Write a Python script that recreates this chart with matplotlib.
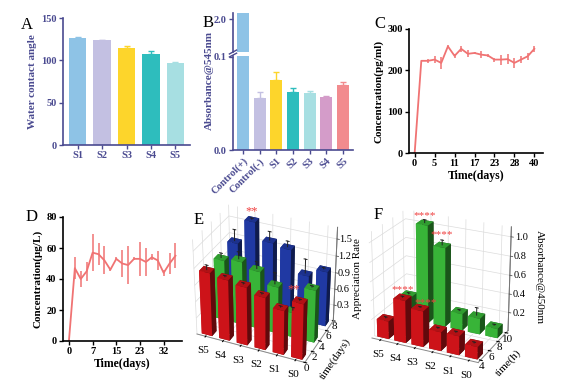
import matplotlib
matplotlib.use('Agg')
import matplotlib.pyplot as plt
import numpy as np
from mpl_toolkits.mplot3d import proj3d

plt.rcParams['font.family'] = ['Liberation Serif', 'DejaVu Serif']

# ---- data ----
a_labels = ['S1', 'S2', 'S3', 'S4', 'S5']
a_vals = [126, 123.5, 115, 108, 97]
a_err = [1, 0.5, 2.5, 2.5, 1.2]
a_cols = ['#8ec3e6', '#c3c0e2', '#fdd52b', '#2ebdbd', '#a7dfe2']

b_labels = ['Control(+)', 'Control(-)', 'S1', 'S2', 'S3', 'S4', 'S5']
b_vals = [2.2, 0.056, 0.075, 0.062, 0.061, 0.057, 0.0695]
b_err = [0, 0.006, 0.009, 0.005, 0.002, 0.0008, 0.004]
b_cols = ['#8ec3e6', '#c3c0e2', '#fdd52b', '#2ebdbd', '#a7dfe2', '#d49cc9', '#f28b8e']

c_vals = [0, 223, 223, 226, 218, 258, 235, 252, 240, 242, 238, 236, 226, 226, 227, 218, 226, 234, 252]
c_err = [0, 0, 5, 8, 14, 4, 5, 8, 8, 3, 8, 3, 5, 12, 12, 12, 8, 8, 8]
c_tickpos = [0, 3, 6, 9, 12, 15, 18]
c_ticklabels = ['0', '5', '11', '17', '23', '28', '40']

d_vals = [0, 47, 40, 45, 57, 56, 52, 46, 53, 50, 49, 53, 53, 51, 54, 52, 44, 50, 55]
d_err = [0, 7, 5, 6, 12, 7, 9, 1, 1, 9, 12, 1, 11, 9, 2, 6, 2, 7, 8]
d_tickpos = [0, 4, 8, 12, 16]
d_ticklabels = ['0', '7', '15', '23', '32']

e_labels = ['S5', 'S4', 'S3', 'S2', 'S1', 'S0']
e_red = [1.15, 1.1, 1.05, 0.95, 0.8, 1.0]
e_green = [1.1, 1.15, 1.05, 0.85, 0.45, 0.95]
e_blue = [1.15, 1.6, 1.3, 1.25, 0.85, 1.0]
e_red_err = [0.08, 0.02, 0.02, 0.02, 0.02, 0.02]
e_green_err = [0.08, 0.12, 0.12, 0.2, 0.05, 0.02]
e_blue_err = [0.2, 0.02, 0.15, 0.1, 0.25, 0.02]
e_rows = [0.8, 4.0, 7.2]

f_labels = ['S5', 'S4', 'S3', 'S2', 'S1', 'S0']
f_red = [0.19, 0.45, 0.38, 0.2, 0.2, 0.13]
f_green = [0.25, 1.05, 0.85, 0.18, 0.17, 0.1]
f_red_err = [0.01, 0.01, 0.01, 0.01, 0.01, 0.01]
f_green_err = [0.01, 0.03, 0.05, 0.01, 0.08, 0.01]
f_rows = [4.6, 9.2]

slate = '#4a4a90'
W, H = 576, 382
fig = plt.figure(figsize=(5.76, 3.82), dpi=100)


def rect(l, t, r, b):
    return [l / W, 1 - b / H, (r - l) / W, (b - t) / H]


def style2d(ax, color='black'):
    for s in ['top', 'right']:
        ax.spines[s].set_visible(False)
    for s in ['left', 'bottom']:
        ax.spines[s].set_color(color)
        ax.spines[s].set_linewidth(1.2)
    ax.tick_params(direction='out', length=3, width=1, colors=color, labelsize=7.5, pad=1.5)
    for t in ax.get_xticklabels() + ax.get_yticklabels():
        t.set_fontweight('bold')


def err_bars(ax, xs, vals, errs, cols):
    for x, v, e, c in zip(xs, vals, errs, cols):
        if e > 0:
            ax.errorbar([x], [v], yerr=[[0], [e]], fmt='none', ecolor=c, capsize=2.5, elinewidth=1, capthick=1)


# ---- A ----
axA = fig.add_axes(rect(63, 18, 190, 145))
xa = np.arange(len(a_vals))
axA.bar(xa, a_vals, width=0.72, color=a_cols)
err_bars(axA, xa, a_vals, a_err, a_cols)
axA.set_ylim(0, 150)
axA.set_yticks([0, 50, 100, 150])
axA.set_xlim(-0.6, 4.6)
axA.set_xticks(xa)
axA.set_xticklabels(a_labels)
style2d(axA, slate)
axA.set_ylabel('Water contact angle', fontsize=8, fontweight='bold', color=slate, labelpad=3)

# ---- B (broken axis) ----
xb = np.arange(len(b_vals))
axB = fig.add_axes(rect(233, 56, 353, 150))
axB.bar(xb, b_vals, width=0.72, color=b_cols)
err_bars(axB, xb, b_vals, b_err, b_cols)
axB.set_ylim(0, 0.101)
axB.set_yticks([0.0, 0.1])
axB.set_yticklabels(['0.0', '0.1'])
axB.set_xlim(-0.6, 6.6)
axB.set_xticks(xb)
axB.set_xticklabels(b_labels, rotation=45, ha='right', rotation_mode='anchor')
style2d(axB, slate)
axB.set_ylabel('Absorbance@545nm', fontsize=8, fontweight='bold', color=slate, labelpad=3)
axB.yaxis.set_label_coords(-0.16, 0.74)

axB2 = fig.add_axes(rect(233, 13, 353, 52))
axB2.bar(xb, b_vals, width=0.72, color=b_cols)
axB2.set_ylim(1.75, 2.05)
axB2.set_yticks([2.0])
axB2.set_yticklabels(['2.0'])
axB2.set_xlim(-0.6, 6.6)
axB2.set_xticks([])
style2d(axB2, slate)
axB2.spines['bottom'].set_visible(False)
axB.plot([-0.03, 0.03], [0.99, 1.03], transform=axB.transAxes, color=slate, lw=1, clip_on=False)
axB2.plot([-0.03, 0.03], [-0.05, 0.05], transform=axB2.transAxes, color=slate, lw=1, clip_on=False)

# ---- C ----
axC = fig.add_axes(rect(409, 29, 543, 153))
xc = np.arange(len(c_vals))
axC.errorbar(xc, c_vals, yerr=c_err, color='#f07373', lw=1.3, elinewidth=1.1, capsize=0)
axC.set_ylim(0, 300)
axC.set_yticks([0, 100, 200, 300])
axC.set_xlim(-0.85, 19.3)
axC.set_xticks(c_tickpos)
axC.set_xticklabels(c_ticklabels)
style2d(axC)
axC.set_ylabel('Concentration(pg/ml)', fontsize=8, fontweight='bold', labelpad=3)
axC.set_xlabel('Time(days)', fontsize=8.5, fontweight='bold', labelpad=1)

# ---- D ----
axD = fig.add_axes(rect(63, 217, 182, 341))
xd = np.arange(len(d_vals))
axD.errorbar(xd, d_vals, yerr=d_err, color='#f07373', lw=1.3, elinewidth=1.1, capsize=0)
axD.set_ylim(0, 80)
axD.set_yticks([0, 20, 40, 60, 80])
axD.set_xlim(-1.0, 19.1)
axD.set_xticks(d_tickpos)
axD.set_xticklabels(d_ticklabels)
style2d(axD)
axD.set_ylabel('Concentration(μg/L)', fontsize=8, fontweight='bold', labelpad=3)
axD.set_xlabel('Time(days)', fontsize=8.5, fontweight='bold', labelpad=1)


# ---- 3D helpers ----
def style3d(ax):
    ax.patch.set_alpha(0)
    for axis in (ax.xaxis, ax.yaxis, ax.zaxis):
        axis.set_pane_color((1, 1, 1, 0))
        axis.pane.set_edgecolor('#aaaaaa')
        axis._axinfo['grid']['color'] = '#dcdcdc'
        axis._axinfo['grid']['linewidth'] = 0.5
        axis.line.set_color('#888888')
        axis.line.set_linewidth(0.7)
    ax.zaxis._axinfo['tick']['inward_factor'] = 0
    ax.zaxis._axinfo['tick']['outward_factor'] = 0
    ax.set_zticklabels([])
    ax.tick_params(axis='x', labelsize=8, pad=-3)
    ax.tick_params(axis='y', labelsize=8, pad=-7)


def bars3d(ax, rows, series, errs, colors, width=0.5, depth=0.9):
    xs, ys, hs, cs = [], [], [], []
    for y0, vals, col in zip(rows, series, colors):
        for i, v in enumerate(vals):
            xs.append(i - width / 2)
            ys.append(y0 - depth / 2)
            hs.append(v)
            cs.append(col)
    ax.bar3d(xs, ys, np.zeros(len(xs)), width, depth, hs, color=cs, shade=True, zorder=1)
    for y0, vals, er in zip(rows, series, errs):
        for i, (v, e) in enumerate(zip(vals, er)):
            ax.plot([i, i], [y0, y0], [v, v + e], color='#222222', lw=0.7, zorder=5)
            ax.plot([i - 0.08, i + 0.08], [y0, y0], [v + e, v + e], color='#222222', lw=0.7, zorder=5)


def right_zaxis(ax, xr, yr, zticks, ztop, fmt, off=0.2):
    ax.plot([xr, xr], [yr, yr], [0, ztop], color='#777777', lw=0.7, zorder=6)
    for v in zticks:
        ax.plot([xr, xr + 0.12], [yr, yr], [v, v], color='#555555', lw=0.6, zorder=6)
        ax.text(xr + off, yr, v, fmt.format(v), fontsize=7.5, ha='left', va='center', zorder=7)


def fit3d(ax, p1, p2, t1, t2):
    # move/scale the 3D axes so two box corners land at given pixel spots
    M = ax.M
    pts = []
    for p in (p1, p2):
        xs, ys, _ = proj3d.proj_transform(p[0], p[1], p[2], M)
        pts.append(ax.transData.transform((xs, ys)))
    P1, P2 = np.array(pts)
    T1 = np.array([t1[0], H - t1[1]])
    T2 = np.array([t2[0], H - t2[1]])
    s = np.linalg.norm(T2 - T1) / np.linalg.norm(P2 - P1)
    bb = ax.get_position(original=True)
    C = np.array([(bb.x0 + bb.x1) / 2 * W, (bb.y0 + bb.y1) / 2 * H])
    Cn = T1 - s * (P1 - C)
    w, h = bb.width * W * s, bb.height * H * s
    ax.set_position([(Cn[0] - w / 2) / W, (Cn[1] - h / 2) / H, w / W, h / H])


# ---- E ----
axE = fig.add_axes(rect(176, 197, 361, 384), projection='3d', computed_zorder=False)
bars3d(axE, e_rows, [e_red, e_green, e_blue], [e_red_err, e_green_err, e_blue_err],
       ['#e8161c', '#3fcc3f', '#2440b8'], width=0.6, depth=1.0)
axE.set_xlim(-0.5, 5.5)
axE.set_ylim(0, 8)
axE.set_zlim(0, 1.7)
axE.set_xticks(range(6))
axE.set_xticklabels(e_labels)
axE.set_yticks([0, 2, 4, 6, 8])
axE.set_zticks([0.3, 0.6, 0.9, 1.2, 1.5])
style3d(axE)
axE.set_ylabel('time(days)', fontsize=8, labelpad=-11)
axE.view_init(elev=32, azim=-66)
axE.set_box_aspect((1.5, 1.0, 1.4))
right_zaxis(axE, 5.5, 8, [0.3, 0.6, 0.9, 1.2, 1.5], 1.7, '{:.1f}', off=0.12)
axE.text(1, 7.2, 1.6 + 0.08, '**', color='#f04040', fontsize=9, ha='center', zorder=8)
axE.text(4, 4.0, 0.78, '**', color='#f04040', fontsize=9, ha='center', zorder=8)
fig.text(358 / W, 1 - 279 / H, 'Appreciation Rate', rotation=90, fontsize=8, ha='center', va='center')

# ---- F ----
axF = fig.add_axes(rect(370, 197, 560, 384), projection='3d', computed_zorder=False)
bars3d(axF, f_rows, [f_red, f_green], [f_red_err, f_green_err], ['#e8161c', '#3fcc3f'],
       width=0.68, depth=1.2)
axF.set_xlim(-0.5, 5.5)
axF.set_ylim(3.5, 10.5)
axF.set_zlim(0, 1.1)
axF.set_xticks(range(6))
axF.set_xticklabels(f_labels)
axF.set_yticks([4, 6, 8, 10])
axF.set_zticks([0.2, 0.4, 0.6, 0.8, 1.0])
style3d(axF)
axF.set_ylabel('time(h)', fontsize=8, labelpad=-12)
axF.view_init(elev=24, azim=-64)
axF.set_box_aspect((1.55, 1.0, 1.5))
right_zaxis(axF, 5.5, 10.5, [0.2, 0.4, 0.6, 0.8, 1.0], 1.1, '{:.1f}')
for (xi, yi, zi) in [(1, 4.6, 0.5), (2.3, 4.6, 0.42), (1, 9.2, 1.1), (2, 9.2, 0.93)]:
    axF.text(xi, yi, zi, '****', color='#f04040', fontsize=8, ha='center', zorder=8)
fig.text(539 / W, 1 - 277 / H, 'Absorbance@450nm', rotation=270, fontsize=8, ha='center', va='center')

# ---- panel letters ----
for s, x, y in [('A', 27, 25), ('B', 208, 23), ('C', 380, 24), ('D', 32, 217), ('E', 199, 220), ('F', 378, 215)]:
    fig.text(x / W, 1 - y / H, s, fontsize=12, ha='center', va='center')

fig.canvas.draw()
fit3d(axE, (-0.5, 0, 0), (5.5, 8, 0), (197, 334), (333, 318))
fit3d(axF, (-0.5, 3.5, 0), (5.5, 10.5, 0), (372, 338), (508, 330))

fig.savefig('out.png', dpi=100)
